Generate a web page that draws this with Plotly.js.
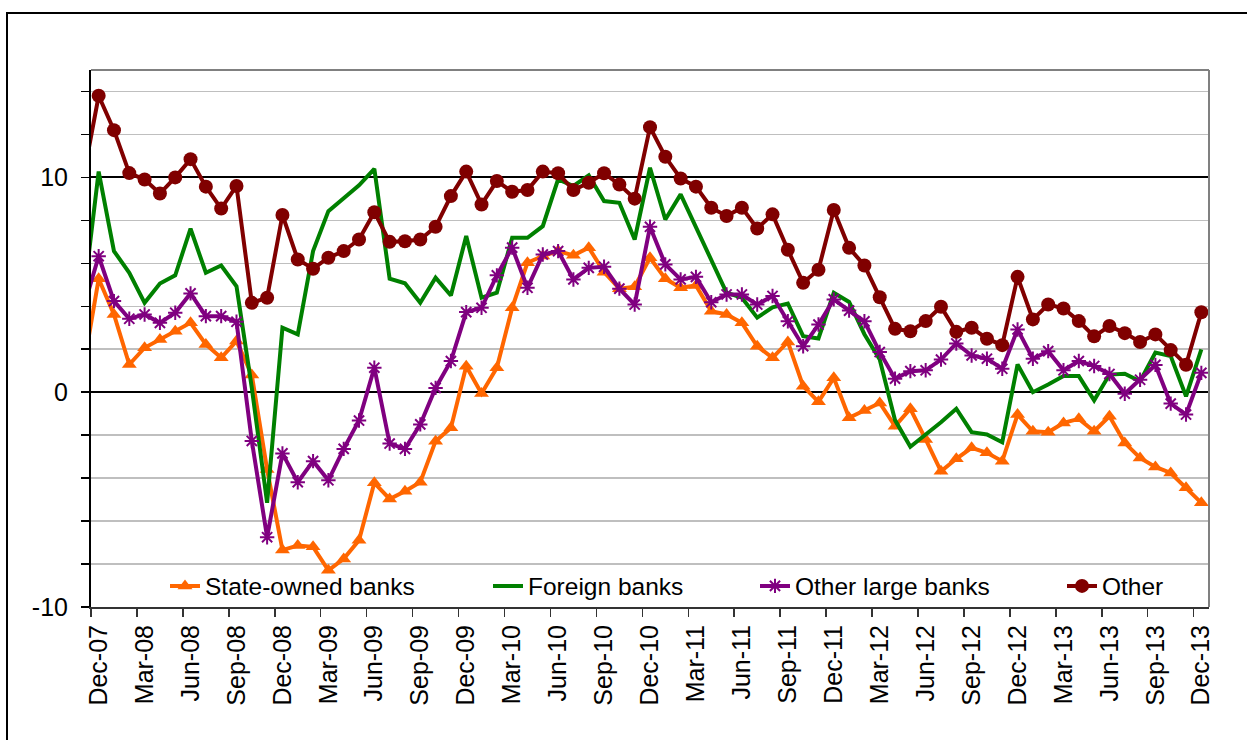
<!DOCTYPE html>
<html>
<head>
<meta charset="utf-8">
<script src="https://cdn.plot.ly/plotly-3.0.1.min.js"></script>
<style>
  html, body { margin: 0; padding: 0; background: #fff; overflow: hidden; }
  #frame { position: absolute; left: 6px; top: 12px; width: 1300px; height: 800px; border: 2px solid #000; box-sizing: border-box; pointer-events: none; z-index: 2; }
  #chart { position: absolute; left: 0; top: 0; width: 1247px; height: 740px; }
</style>
</head>
<body>
<div id="chart"></div>
<div id="frame"></div>
<script>
// Months from Nov-07 (one month before the first visible point) to Dec-13
const monthNames = ["Jan","Feb","Mar","Apr","May","Jun","Jul","Aug","Sep","Oct","Nov","Dec"];
const months = [];
for (let k = 0; k < 74; k++) {
  const m = (10 + k) % 12;
  const y = 7 + Math.floor((10 + k) / 12);
  months.push(monthNames[m] + "-" + String(y).padStart(2, "0"));
}

const stateOwned = [1.1,
  5.28, 3.62, 1.29, 2.07, 2.45, 2.84, 3.23, 2.22, 1.6, 2.38, 0.8, -3.6,
  -7.35, -7.14, -7.2, -8.29, -7.76, -6.89, -4.22, -4.97, -4.61, -4.19, -2.28, -1.66,
  1.21, -0.06, 1.14, 3.93, 6.03, 6.34, 6.57, 6.37, 6.73, 5.59, 4.82, 4.91,
  6.26, 5.28, 4.86, 4.97, 3.77, 3.62, 3.23, 2.14, 1.6, 2.34, 0.28, -0.45,
  0.67, -1.19, -0.85, -0.5, -1.58, -0.77, -2.2, -3.68, -3.1, -2.59, -2.82, -3.21,
  -1.04, -1.82, -1.86, -1.43, -1.24, -1.82, -1.12, -2.36, -3.06, -3.48, -3.76, -4.45,
  -5.15];

const foreign = [4.3,
  10.27, 6.57, 5.56, 4.16, 5.06, 5.44, 7.61, 5.56, 5.9, 4.93, 0.2, -5.15,
  3.0, 2.69, 6.57, 8.43, 9.02, 9.63, 10.4, 5.28, 5.07, 4.16, 5.33, 4.5,
  7.27, 4.4, 4.63, 7.19, 7.19, 7.73, 9.91, 9.6, 10.09, 8.9, 8.82, 7.11,
  10.45, 8.04, 9.21, 7.7, 6.13, 4.63, 4.4, 3.47, 3.95, 4.13, 2.61, 2.5,
  4.63, 4.2, 2.7, 1.52, -1.3, -2.54, -1.97, -1.4, -0.77, -1.86, -1.97, -2.33,
  1.29, 0.0, 0.36, 0.75, 0.75, -0.38, 0.82, 0.86, 0.51, 1.85, 1.68, -0.19,
  1.99];

const otherLarge = [3.9,
  6.33, 4.24, 3.42, 3.62, 3.23, 3.7, 4.6, 3.54, 3.54, 3.28, -2.27, -6.75,
  -2.85, -4.19, -3.21, -4.1, -2.64, -1.32, 1.14, -2.39, -2.64, -1.5, 0.2, 1.45,
  3.73, 3.93, 5.44, 6.73, 4.86, 6.41, 6.57, 5.25, 5.79, 5.84, 4.82, 4.08,
  7.7, 5.95, 5.25, 5.37, 4.19, 4.55, 4.55, 4.08, 4.48, 3.3, 2.14, 3.15,
  4.32, 3.8, 3.3, 1.87, 0.63, 0.98, 1.02, 1.52, 2.27, 1.71, 1.56, 1.09,
  2.92, 1.56, 1.91, 1.02, 1.45, 1.22, 0.85, -0.07, 0.58, 1.27, -0.53, -1.04,
  0.9];

const other = [10.0,
  13.8, 12.2, 10.2, 9.9, 9.25, 10.0, 10.85, 9.57, 8.55, 9.6, 4.16, 4.4,
  8.25, 6.18, 5.75, 6.26, 6.57, 7.11, 8.38, 7.0, 7.03, 7.11, 7.7, 9.13,
  10.27, 8.74, 9.83, 9.33, 9.41, 10.27, 10.19, 9.41, 9.75, 10.19, 9.67, 9.01,
  12.34, 10.96, 9.95, 9.57, 8.59, 8.2, 8.59, 7.62, 8.28, 6.63, 5.09, 5.7,
  8.48, 6.72, 5.9, 4.42, 2.95, 2.84, 3.31, 3.98, 2.81, 3.0, 2.49, 2.19,
  5.37, 3.39, 4.08, 3.9, 3.31, 2.6, 3.08, 2.75, 2.34, 2.69, 1.96, 1.28,
  3.72];

const tickLabels = ["Dec-07","Mar-08","Jun-08","Sep-08","Dec-08","Mar-09","Jun-09","Sep-09",
  "Dec-09","Mar-10","Jun-10","Sep-10","Dec-10","Mar-11","Jun-11","Sep-11","Dec-11",
  "Mar-12","Jun-12","Sep-12","Dec-12","Mar-13","Jun-13","Sep-13","Dec-13"];
const yTickVals = [-10, 0, 10];
const yTickText = ["-10", "0", "10"];

// x position = month index relative to Dec-07
const xs = months.map((_, k) => k - 1);
const tickVals = tickLabels.map(l => months.indexOf(l) - 1);

const FONT = "Liberation Sans, Arial, sans-serif";

const specs = [
  { name: "State-owned banks", y: stateOwned, color: "#FF6600", legend: "legend",
    mode: "lines+markers", marker: { symbol: "triangle-up", size: 13, color: "#FF6600" } },
  { name: "Foreign banks", y: foreign, color: "#008000", legend: "legend2",
    mode: "lines", marker: { size: 1, color: "#008000" } },
  { name: "Other large banks", y: otherLarge, color: "#800080", legend: "legend3",
    mode: "lines+markers", marker: { symbol: "asterisk-open", size: 12, color: "#800080", line: { color: "#800080", width: 2 } } },
  { name: "Other", y: other, color: "#800000", legend: "legend4",
    mode: "lines+markers", marker: { symbol: "circle", size: 14, color: "#800000" } }
];
const traces = specs.map(t => ({
  type: "scatter",
  x: xs,
  y: t.y,
  name: t.name,
  mode: t.mode,
  line: { color: t.color, width: 4 },
  marker: t.marker,
  legend: t.legend,
  cliponaxis: true,
  hoverinfo: "skip"
}));

const plotL = 91, plotR = 1209, plotT = 70, plotB = 607;
const px2x = p => (p - plotL) / (plotR - plotL);
const legY = (plotB - 586) / (plotB - plotT);
function leg(textX) {
  return {
    x: px2x(textX - 40), y: legY, xanchor: "left", yanchor: "middle",
    orientation: "h", bgcolor: "rgba(0,0,0,0)", borderwidth: 0,
    font: { family: FONT, size: 24.5, color: "#000" }
  };
}

const layout = {
  width: 1247, height: 740,
  margin: { l: plotL, r: 1247 - plotR, t: plotT, b: 740 - plotB },
  paper_bgcolor: "#fff", plot_bgcolor: "#fff",
  font: { family: FONT, size: 24, color: "#000" },
  showlegend: true,
  legend: leg(205),
  legend2: leg(528),
  legend3: leg(795),
  legend4: leg(1102),
  xaxis: {
    range: [-0.5, 72.5],
    tickmode: "array", tickvals: tickVals, ticktext: tickLabels,
    ticks: "", tickangle: -90,
    tickfont: { family: FONT, size: 25, color: "#000" },
    ticklabelstandoff: 6,
    showgrid: false, zeroline: false,
    showline: true, linecolor: "#333", linewidth: 2,
    minor: { tick0: -0.5, dtick: 3, ticks: "outside", ticklen: 8, tickwidth: 1.5, tickcolor: "#333", showgrid: false },
    fixedrange: true
  },
  yaxis: {
    range: [-10, 15],
    tickmode: "array", tickvals: yTickVals, ticktext: yTickText,
    ticks: "outside", ticklen: 8, tickwidth: 1.5, tickcolor: "#000",
    tickfont: { family: FONT, size: 25, color: "#000" },
    showgrid: true, gridcolor: "#000", gridwidth: 2,
    zeroline: false,
    showline: true, linecolor: "#000", linewidth: 2,
    ticklabelstandoff: 8,
    minor: { tick0: 0, dtick: 2, ticks: "outside", ticklen: 8, tickwidth: 1.5, tickcolor: "#000",
             showgrid: true, gridcolor: "#BFBFBF", gridwidth: 1.5 },
    fixedrange: true
  },
  shapes: [
    { type: "line", xref: "paper", yref: "paper", x0: 0, x1: 1, y0: 1, y1: 1, line: { color: "#808080", width: 2 } },
    { type: "line", xref: "paper", yref: "paper", x0: 1, x1: 1, y0: 0, y1: 1, line: { color: "#808080", width: 2 } }
  ]
};

Plotly.newPlot("chart", traces, layout, { displayModeBar: false, staticPlot: true });
</script>
</body>
</html>
